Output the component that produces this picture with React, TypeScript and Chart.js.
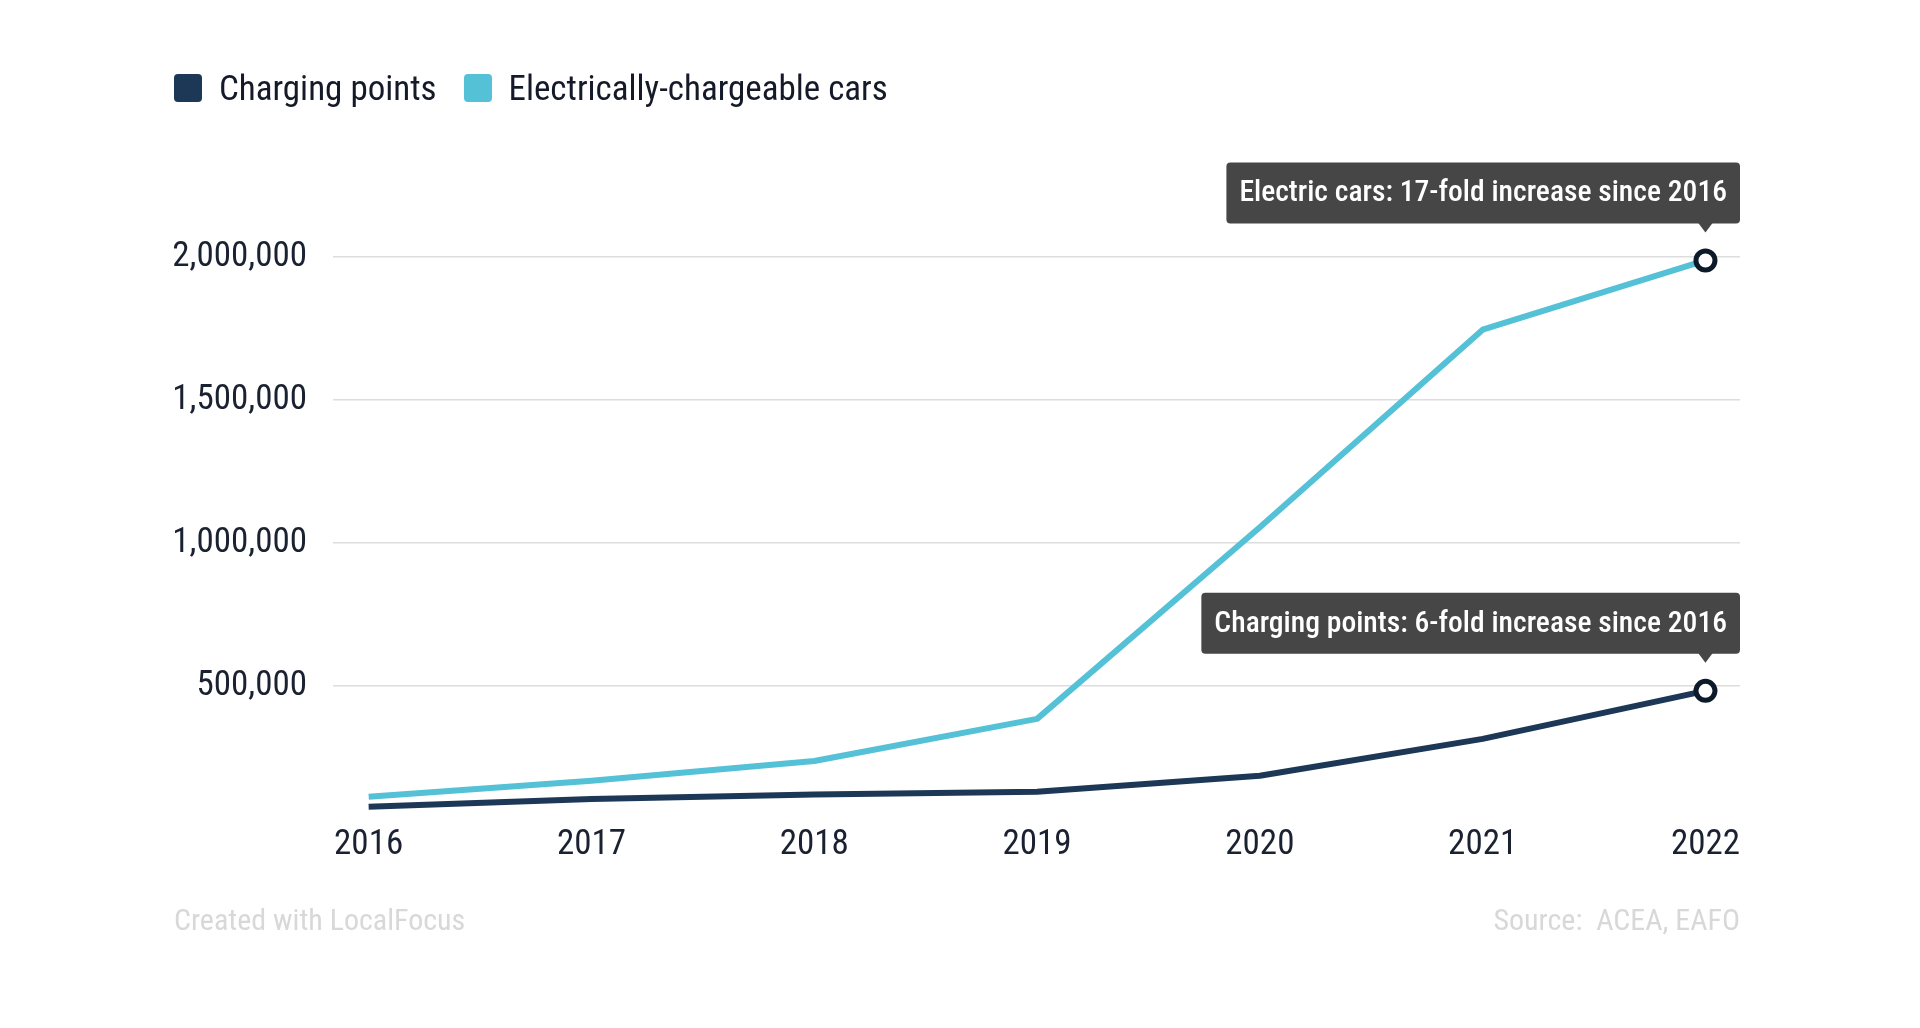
import { useEffect, useRef } from "react";
import { Chart, registerables } from "chart.js";

Chart.register(...registerables);

// ---- data ----
const YEARS = [2016, 2017, 2018, 2019, 2020, 2021, 2022];
const CHARGING_POINTS = [78000, 105000, 121000, 130000, 186000, 315000, 483000];
const CHARGEABLE_CARS = [113000, 169000, 238000, 385000, 1055000, 1746000, 1988000];
const Y_TICKS = [500000, 1000000, 1500000, 2000000];
const SERIES_NAMES = ["Charging points", "Electrically-chargeable cars"];
const CALLOUTS = [
  "Charging points: 6-fold increase since 2016",
  "Electric cars: 17-fold increase since 2016",
];
const CREDIT = "Created with LocalFocus";
const SOURCE = "Source:  ACEA, EAFO";

// ---- style ----
const FAMILY = "'Roboto Condensed', Roboto, sans-serif";
const COLORS = ["#1d3756", "#55c1d6"];
const TEXT = "#1a2130";
const STRETCH = "condensed";

// Dark label boxes with a small pointer above the final point of each line
const calloutPlugin = {
  id: "endCallouts",
  afterDatasetsDraw(chart: any) {
    const { ctx, chartArea } = chart;
    chart.data.datasets.forEach((_: any, i: number) => {
      const meta = chart.getDatasetMeta(i);
      const pt = meta.data[meta.data.length - 1];
      if (!pt) return;
      const text = CALLOUTS[i];
      ctx.save();
      ctx.font = `500 ${STRETCH} 29.6px ${FAMILY}`;
      const tw = ctx.measureText(text).width;
      const w = tw + 26;
      const h = 61;
      const right = chartArea.right;
      const bottom = pt.y - 37;
      const left = right - w;
      const top = bottom - h;
      ctx.fillStyle = "#464646";
      ctx.beginPath();
      ctx.roundRect(left, top, w, h, 4);
      ctx.fill();
      ctx.beginPath();
      ctx.moveTo(pt.x - 7.5, bottom - 1);
      ctx.lineTo(pt.x + 7.5, bottom - 1);
      ctx.lineTo(pt.x, bottom + 9);
      ctx.closePath();
      ctx.fill();
      ctx.fillStyle = "#ffffff";
      ctx.textAlign = "center";
      ctx.textBaseline = "middle";
      ctx.fillText(text, left + w / 2, top + h / 2 + 1);
      ctx.restore();
    });
  },
};

function EvChart() {
  const canvasRef = useRef<HTMLCanvasElement | null>(null);

  useEffect(() => {
    const canvas = canvasRef.current;
    if (!canvas) return;
    const last = YEARS.length - 1;
    const series = [CHARGING_POINTS, CHARGEABLE_CARS];
    const chart = new Chart(canvas, {
      type: "line",
      data: {
        datasets: series.map((values, i) => ({
          label: SERIES_NAMES[i],
          data: YEARS.map((yr, j) => ({ x: yr, y: values[j] })),
          borderColor: COLORS[i],
          backgroundColor: COLORS[i],
          borderWidth: 6,
          borderJoinStyle: "round" as const,
          tension: 0,
          clip: false as any,
          pointRadius: (c: any) => (c.dataIndex === last ? 9.5 : 0),
          pointHoverRadius: (c: any) => (c.dataIndex === last ? 9.5 : 0),
          pointBorderWidth: 5,
          pointBorderColor: "#0c1a2a",
          pointBackgroundColor: "#ffffff",
        })),
      },
      options: {
        animation: false,
        responsive: false,
        devicePixelRatio: 1,
        events: [],
        layout: { padding: { left: 174, right: 180, top: 257, bottom: 167 } },
        plugins: {
          legend: { display: false },
          tooltip: { enabled: false },
        },
        scales: {
          x: {
            type: "linear",
            min: 2015.84,
            max: 2022.155,
            grid: { display: false, drawTicks: false },
            border: { display: false },
            afterBuildTicks: (s: any) => {
              s.ticks = YEARS.map((v) => ({ value: v }));
            },
            ticks: {
              padding: -5,
              autoSkip: false,
              maxRotation: 0,
              color: TEXT,
              font: { family: FAMILY, size: 35, weight: STRETCH as any },
              callback: (v: any) => String(v),
            },
          },
          y: {
            min: 0,
            max: 2000000,
            afterBuildTicks: (s: any) => {
              s.ticks = Y_TICKS.map((v) => ({ value: v }));
            },
            afterFit: (s: any) => {
              s.width = 159;
            },
            grid: { color: "#dddddd", lineWidth: 1.5, drawTicks: false },
            border: { display: false },
            ticks: {
              padding: 26,
              color: TEXT,
              font: { family: FAMILY, size: 35, weight: STRETCH as any },
              callback: (v: any) => Number(v).toLocaleString("en-US"),
            },
          },
        },
      },
      plugins: [calloutPlugin],
    });
    return () => chart.destroy();
  }, []);

  return (
    <canvas
      ref={canvasRef}
      width={1920}
      height={1028}
      style={{ position: "absolute", left: 0, top: 0, width: 1920, height: 1028 }}
    />
  );
}

export default function App() {
  const textStyle = {
    fontFamily: FAMILY,
    fontStretch: STRETCH,
    whiteSpace: "pre" as const,
  };
  return (
    <div
      style={{
        position: "fixed",
        left: 0,
        top: 0,
        width: 1920,
        height: 1028,
        overflow: "hidden",
        background: "#ffffff",
      }}
    >
      <EvChart />
      <div
        style={{
          position: "absolute",
          left: 174,
          top: 68,
          height: 40,
          display: "flex",
          alignItems: "center",
          ...textStyle,
          fontSize: 35,
          color: "#141a27",
        }}
      >
        {SERIES_NAMES.map((name, i) => (
          <div key={name} style={{ display: "flex", alignItems: "center", marginRight: 27 }}>
            <span
              style={{
                width: 28,
                height: 28,
                borderRadius: 4,
                background: COLORS[i],
                marginRight: 17,
                display: "inline-block",
              }}
            />
            <span>{name}</span>
          </div>
        ))}
      </div>
      <div
        style={{
          position: "absolute",
          left: 174,
          top: 902,
          ...textStyle,
          fontSize: 30,
          color: "#d8d8d8",
        }}
      >
        {CREDIT}
      </div>
      <div
        style={{
          position: "absolute",
          right: 180,
          top: 902,
          ...textStyle,
          fontSize: 30,
          color: "#d8d8d8",
        }}
      >
        {SOURCE}
      </div>
    </div>
  );
}
